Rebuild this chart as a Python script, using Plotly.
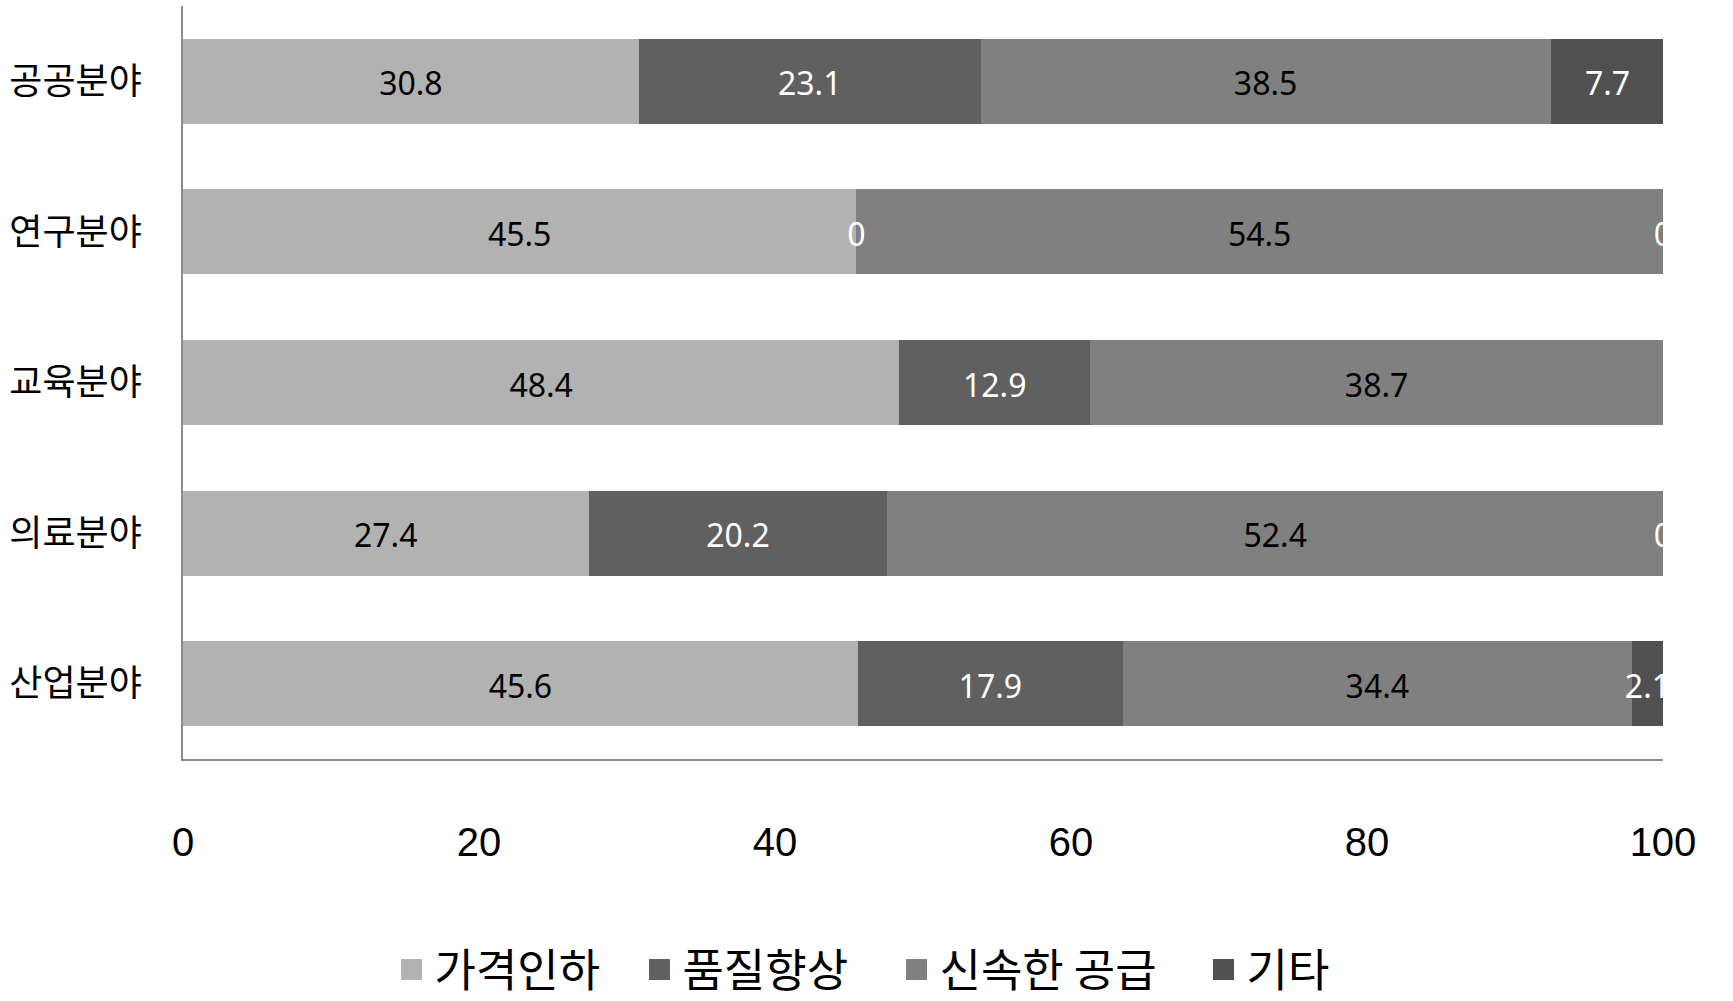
import plotly.graph_objects as go

categories = ["공공분야", "연구분야", "교육분야", "의료분야", "산업분야"]
series_names = ["가격인하", "품질향상", "신속한 공급", "기타"]
price_cut = [30.8, 45.5, 48.4, 27.4, 45.6]
quality_up = [23.1, 0, 12.9, 20.2, 17.9]
fast_supply = [38.5, 54.5, 38.7, 52.4, 34.4]
other = [7.7, 0, None, 0, 2.1]
tick_vals = [0, 20, 40, 60, 80, 100]

series = [price_cut, quality_up, fast_supply, other]
colors = ["#b2b2b2", "#606060", "#808080", "#505050"]
text_colors = ["black", "white", "black", "white"]
legend_ids = ["legend", "legend2", "legend3", "legend4"]
legend_x = [0.1389, 0.3064, 0.4801, 0.6875]
label_dy = 0.04  # small downward nudge of value labels (category units)

y_pos = list(range(len(categories)))

fig = go.Figure()
for name, vals, col in zip(series_names, series, colors):
    fig.add_trace(go.Bar(
        y=y_pos, x=[v if v is not None else 0 for v in vals],
        orientation="h", name=name, marker=dict(color=col, line=dict(width=0)),
        hoverinfo="skip", showlegend=False,
    ))

# legend-only entries with larger square symbols
for name, col, lid in zip(series_names, colors, legend_ids):
    fig.add_trace(go.Scatter(
        x=[None], y=[None], mode="markers", name=name, legend=lid,
        marker=dict(symbol="square", size=16, color=col, line=dict(width=5, color=col)),
        hoverinfo="skip",
    ))

cum = [0.0] * len(categories)
for vals, tc in zip(series, text_colors):
    xs, ys, ts = [], [], []
    for i, v in enumerate(vals):
        if v is None:
            continue
        xs.append(cum[i] + v / 2)
        ys.append(y_pos[i] + label_dy)
        ts.append(f"{v:g}")
        cum[i] += v
    fig.add_trace(go.Scatter(
        x=xs, y=ys, text=ts, mode="text", showlegend=False,
        textfont=dict(color=tc, size=32, family="Noto Sans, sans-serif"),
        cliponaxis=True, hoverinfo="skip",
    ))

legend_common = dict(
    orientation="h", xanchor="left", y=-0.28, yanchor="middle",
    font=dict(size=45, family="Noto Sans CJK KR, sans-serif"),
    bgcolor="rgba(0,0,0,0)", itemwidth=36, itemsizing="trace",
)

fig.update_layout(
    barmode="stack",
    bargap=0.435,
    width=1733, height=1001,
    margin=dict(l=183, r=70, t=6, b=242, autoexpand=False),
    paper_bgcolor="white", plot_bgcolor="white",
    font=dict(family="Noto Sans CJK KR, sans-serif", color="black"),
    xaxis=dict(
        range=[0, 100], tickvals=tick_vals, ticks="", showgrid=False,
        zeroline=False, showline=True, linecolor="#8c8c8c", linewidth=2,
        tickfont=dict(size=40, family="Liberation Sans Narrow, Liberation Sans, sans-serif"),
        ticklabelstandoff=47, fixedrange=True,
    ),
    yaxis=dict(
        tickvals=y_pos, ticktext=categories,
        range=[len(categories) - 0.5, -0.5],
        showgrid=False, zeroline=False, showline=True, linecolor="#8c8c8c",
        linewidth=2, ticks="", ticklabelstandoff=32,
        tickfont=dict(size=36, family="Noto Sans CJK KR, sans-serif"),
        fixedrange=True,
    ),
)
for lid, lx in zip(legend_ids, legend_x):
    fig.update_layout({lid: dict(legend_common, x=lx)})

fig.write_html("out.html", config={"displayModeBar": False},
               post_script="document.body.style.margin='0px';")
